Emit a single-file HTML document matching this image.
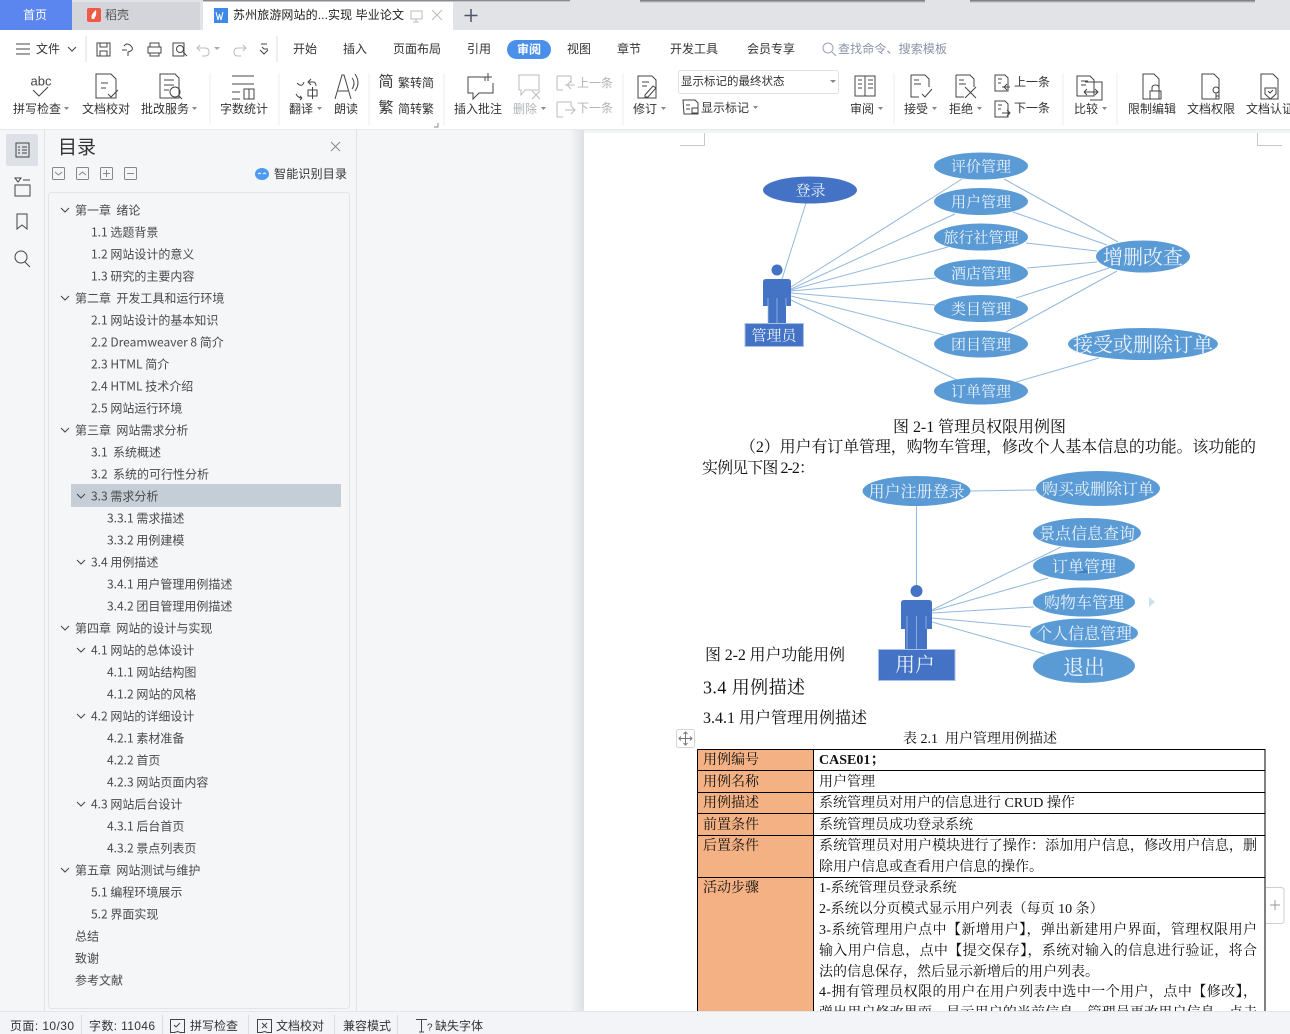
<!DOCTYPE html>
<html lang="zh-CN"><head><meta charset="utf-8"><title>苏州旅游网站的实现 毕业论文</title>
<style>
html,body{margin:0;padding:0;background:#fff;width:1290px;height:1034px;overflow:hidden}
svg{display:block}
text{dominant-baseline:central;font-family:"Liberation Sans","Noto Sans CJK SC",sans-serif;font-size:12px;fill:#333}
.g{fill:#b0b3b8}
.t text{font-family:"Noto Sans CJK SC",sans-serif;font-size:12px;fill:#4a4a4a}
.d text{font-family:"Liberation Serif","Noto Serif CJK SC",serif;font-size:14px;fill:#111;transform:translateY(1.5px)}
.w text{font-family:"Liberation Serif","Noto Serif CJK SC",serif;fill:#eaf2fb;text-anchor:middle;font-size:15px;transform:translateY(1.5px)}
.ic *{fill:none;stroke:#444;stroke-width:1}
.ig *{fill:none;stroke:#bbb;stroke-width:1}
.ln line{stroke:#93b9de;stroke-width:1}
</style></head><body>
<svg width="1290" height="1034" viewBox="0 0 1290 1034" xmlns="http://www.w3.org/2000/svg">
<defs>
<linearGradient id="sh" x1="0" x2="1" y1="0" y2="0"><stop offset="0" stop-color="#f5f6f8"/><stop offset="1" stop-color="#dfe0e3"/></linearGradient>
<linearGradient id="ts" x1="0" x2="0" y1="0" y2="1"><stop offset="0" stop-color="#6c6e72"/><stop offset="1" stop-color="#e1e3e7"/></linearGradient>
</defs>
<rect width="1290" height="1034" fill="#fff"/>
<!-- tab strip -->
<rect width="1290" height="30" fill="#e1e3e7"/>
<rect x="640" y="0" width="285" height="3" fill="url(#ts)"/>
<rect x="970" y="0" width="285" height="3" fill="url(#ts)"/>
<rect x="0" y="0" width="72" height="30" fill="#5b86f0"/>
<rect x="72" y="2" width="128" height="28" fill="#d3d5da"/>
<rect x="203" y="0" width="250" height="30" fill="#fff"/>
<rect x="203" y="0" width="367" height="2" fill="url(#ts)"/>
<text x="35" y="15" text-anchor="middle" style="fill:#fff">首页</text>
<path d="M87 10q0-2 2-2h10q2 0 2 2v10q0 2-2 2H89q-2 0-2-2z" fill="#ee5a45"/><path d="M92 19q-2-4 4-9 1 5-2 9z" fill="#fff"/>
<text x="105" y="15" style="fill:#555">稻壳</text>
<rect x="214" y="8" width="14" height="15" fill="#3f8ae8"/><path d="M216 12l2 8 1.500-6 1.500 6 2-8" fill="none" stroke="#fff"/>
<text x="233" y="15" textLength="171" style="fill:#222">苏州旅游网站的...实现 毕业论文</text>
<g class="ig"><rect x="411" y="11" width="11" height="8"/><path d="M416 19v3m-3 0h6"/><path d="M432 10l10 10m0-10l-10 10"/></g>
<path d="M471 9v13m-6.500-6.500h13" stroke="#4a5568" stroke-width="1.500"/>
<!-- menu row -->
<g class="ic">
<path d="M16 44h14M16 49h14M16 54h14"/>
<path d="M68 47l4 4 4-4"/>
<rect x="97" y="43" width="13" height="13"/><path d="M100 43v4h7v-4M100 56v-5h7v5"/>
<path d="M124 46q3-4 7 0t-3 6v4m-6-6h5"/>
<rect x="148" y="47" width="13" height="6"/><path d="M150 47v-4h9v4M150 53v3h9v-3"/>
<rect x="173" y="43" width="11" height="13"/><circle cx="180" cy="49" r="3.500"/><path d="M183 52l4 4"/>
<path d="M262 47l2 2 4-0M261 44h6M260 50l4 4 4-4"/>
</g>
<g class="ig"><path d="M200 45l-3 3 3 3M197 48h8q4 0 4 4t-4 4h-3"/><path d="M243 45l3 3-3 3M246 48h-8q-4 0-4 4t4 4h3"/></g>
<path d="M214 47l3 3 3-3z" fill="#aaa"/>
<text x="36" y="49">文件</text>
<line x1="86" y1="36" x2="86" y2="62" stroke="#ddd"/><line x1="277" y1="36" x2="277" y2="62" stroke="#ddd"/>
<text x="293" y="49">开始</text><text x="343" y="49">插入</text><text x="393" y="49">页面布局</text><text x="467" y="49">引用</text>
<rect x="507" y="40" width="44" height="19" rx="9.500" fill="#4a90ea"/>
<text x="517" y="49.500" style="fill:#fff;font-weight:bold">审阅</text>
<text x="567" y="49">视图</text><text x="617" y="49">章节</text><text x="670" y="49">开发工具</text><text x="747" y="49">会员专享</text>
<circle cx="828" cy="48" r="5" fill="none" stroke="#9aa3b5"/><path d="M832 52l4 4" stroke="#9aa3b5"/>
<text x="838" y="49" textLength="109" style="fill:#8a93a6">查找命令、搜索模板</text>
<!-- ribbon labels -->
<g>
<text x="13" y="109">拼写检查</text><text x="82" y="109">文档校对</text><text x="141" y="109">批改服务</text>
<text x="220" y="109">字数统计</text><text x="289" y="109">翻译</text><text x="334" y="109">朗读</text>
<text x="398" y="83">繁转简</text><text x="398" y="109">简转繁</text>
<text x="454" y="109">插入批注</text><text x="513" y="109" class="g">删除</text>
<text x="577" y="83" class="g">上一条</text><text x="577" y="108" class="g">下一条</text>
<text x="633" y="109">修订</text>
<text x="701" y="108">显示标记</text>
<text x="850" y="109">审阅</text><text x="904" y="109">接受</text><text x="949" y="109">拒绝</text>
<text x="1014" y="82">上一条</text><text x="1014" y="108">下一条</text>
<text x="1074" y="109">比较</text><text x="1128" y="109">限制编辑</text><text x="1187" y="109">文档权限</text><text x="1246" y="109">文档认证</text>
</g>
<rect x="678.500" y="70.500" width="160" height="23" rx="2" fill="#fff" stroke="#e2e2e2"/>
<text x="681" y="82" style="font-size:11.500px">显示标记的最终状态</text>
<path d="M830 80l6 0-3 3z" fill="#888"/>
<path d="M64 107h5l-2.500 3zM192 107h5l-2.500 3zM317 107h5l-2.500 3zM541 107h5l-2.500 3zM661 107h5l-2.500 3zM753 106h5l-2.500 3zM878 107h5l-2.500 3zM932 107h5l-2.500 3zM977 107h5l-2.500 3zM1102 107h5l-2.500 3z" fill="#888"/>
<path d="M434 127h4v-4" fill="none" stroke="#888"/>
<g stroke="#eeeeee"><line x1="210" y1="73" x2="210" y2="125"/><line x1="279" y1="73" x2="279" y2="125"/><line x1="369" y1="73" x2="369" y2="125"/><line x1="444" y1="73" x2="444" y2="125"/><line x1="623" y1="73" x2="623" y2="125"/><line x1="894" y1="73" x2="894" y2="125"/><line x1="1063" y1="73" x2="1063" y2="125"/><line x1="1117" y1="73" x2="1117" y2="125"/></g>
<!-- ribbon icons -->
<text x="41" y="81" text-anchor="middle" style="font-size:13px;fill:#444">abc</text>
<text x="386" y="82" text-anchor="middle" style="font-size:15px;fill:#333">简</text>
<text x="386" y="108" text-anchor="middle" style="font-size:15px;fill:#333">繁</text>
<g class="ic">
<path d="M33 90l6 6 9-9"/>
<path d="M96 74h15l5 5v19h-20zM101 83h7M101 88h5M108 94l3 3 7-7"/>
<path d="M160 74h15l4 4v20h-19zM164 80h10M164 85h10M164 90h5"/><circle cx="175" cy="92" r="5"/><path d="M179 96l3 3"/>
<path d="M232 76h22M232 84h22M232 92h8M232 99h8M244 89h10v10h-10zM249 89v10"/>
<path d="M297 83q5 5 7-1m7-3l-3 3 3 3m-3-3h5q3 0 3 4M296 94q2 4 6 4m0 0l-2-2m2 2l-2 2M308 90h9v6h-9zM312.500 87v12"/>
<path d="M335 99l7-24h2l7 24M338 91h10M352 78q4 5 0 11M355 74q6 9 0 17"/>
<path d="M468 77h17v4M493 83v10h-14l-6 6v-6h-5V77h3M488 73v8m-4-4h8"/>
<path d="M642 76h10l4 4v18h-18V76zM642 82h7M642 86h5M645 95l8-9 3 2-8 9h-3z"/>
<path d="M683 101h12l3 3v11h-14zM686 106h4M686 110h4" transform="translate(0,-1)"/><path d="M692 108h6v5h-6z"/>
<rect x="855" y="76" width="20" height="20"/><path d="M865 76v20M858 80h4M858 84h4M858 88h4M868 80h5M868 84h5M868 88h5"/>
<path d="M911 75h14l4 4v8M911 75v22h8M914 80h5M914 84h7M922 94l3 3 7-8"/>
<path d="M956 75h14l4 4v8M956 75v22h8M959 80h5M959 84h7M965 87l11 11m0-11l-11 11"/>
<path d="M995 75h10l3 3v13h-13zM998 79h4M998 83h3M1002 87h8m-3-3l-3 3 3 3"/>
<path d="M995 101h10l3 3v13h-13zM998 105h4M998 109h3M1002 113h8m-3-3l3 3-3 3"/>
<path d="M1077 76h13l4 4v16h-17zM1085 82h17v18h-12M1081 81h7M1081 85h5M1084 92h14m-3-3l3 3-3 3m-11-3l3-3m-3 3l3 3"/>
<path d="M1143 74h11l5 5v20h-16zM1150 91h11v8h-11z"/><path d="M1152 91v-3q0-3 3.500-3t3.500 3v3"/>
<path d="M1202 74h12l5 5v20h-17z"/><circle cx="1216" cy="90" r="3"/><path d="M1216 93v6m0-3h3"/>
<path d="M1261 74h12l5 5v20h-17zM1265 88h11v6l-5.500 5-5.500-5zM1268 91l2 2 3-3"/>
</g>
<g class="ig">
<path d="M519 75h20v15h-14l-4 5v-5h-2zM532 91l8 8m0-8l-8 8"/>
<path d="M557 76h14v7m-14 7v-14m0 14h6M565 85h10m-4-4l-4 4 4 4"/>
<path d="M557 102h14v4m-14 11v-15m0 15h6M565 110h10m-4-4l4 4-4 4"/>
</g>
<rect x="0" y="129" width="1290" height="1" fill="#e8e9ec"/>
<!-- side panes -->
<rect x="0" y="130" width="584" height="881" fill="#f5f6f8"/>
<rect x="570" y="130" width="14" height="881" fill="url(#sh)"/>
<line x1="44.500" y1="130" x2="44.500" y2="1011" stroke="#e2e4e8"/>
<line x1="356.500" y1="130" x2="356.500" y2="1011" stroke="#e2e4e8"/>
<rect x="48.500" y="192.500" width="301" height="816" rx="3" fill="#f5f6f8" stroke="#e3e5e9"/>
<rect x="6" y="134" width="32" height="32" rx="2" fill="#dde1e7"/>
<g class="ic"><rect x="16" y="143" width="13" height="14"/><path d="M18 147h2M22 147h5M18 150h2M22 150h5M18 153h2M22 153h5"/>
<path d="M15 178h6l-3 4zM23 180h7M15 185h15v11H15z"/><path d="M17 214h10v15l-5-4-5 4z"/><circle cx="21" cy="257" r="6"/><path d="M25 262l5 5"/></g>
<text x="58" y="148" style="font-size:19px;fill:#333">目录</text>
<path d="M331 142l9 9m0-9l-9 9" stroke="#888" fill="none"/>
<g fill="none" stroke="#888"><rect x="52.500" y="167.500" width="12" height="12" rx="1"/><rect x="76.500" y="167.500" width="12" height="12" rx="1"/><rect x="100.500" y="167.500" width="12" height="12" rx="1"/><rect x="124.500" y="167.500" width="12" height="12" rx="1"/><path d="M55 172l3.500 3 3.500-3M79 175l3.500-3 3.500 3M103 173.500h7M106.500 170v7M127 173.500h7"/></g>
<ellipse cx="262" cy="174" rx="7" ry="6" fill="#4d9af0"/><path d="M258 174l1.500-1 1.500 1M263 174l1.500-1 1.500 1" stroke="#fff" fill="none"/>
<text x="274" y="174" textLength="73" style="fill:#333">智能识别目录</text>
<rect x="71" y="484" width="270" height="23" fill="#c5ced6"/>
<g fill="none" stroke="#444"><path d="M61 208l4 4 4-4M61 296l4 4 4-4M61 428l4 4 4-4M61 626l4 4 4-4M61 868l4 4 4-4M77 494l4 4 4-4M77 560l4 4 4-4M77 648l4 4 4-4M77 714l4 4 4-4M77 802l4 4 4-4"/></g>
<g class="t">
<text x="75" y="210">第一章&#160;&#160;绪论</text><text x="91" y="232">1.1 选题背景</text><text x="91" y="254">1.2 网站设计的意义</text><text x="91" y="276">1.3 研究的主要内容</text>
<text x="75" y="298">第二章&#160;&#160;开发工具和运行环境</text><text x="91" y="320">2.1 网站设计的基本知识</text><text x="91" y="342">2.2 Dreamweaver 8 简介</text><text x="91" y="364">2.3 HTML 简介</text><text x="91" y="386">2.4 HTML 技术介绍</text><text x="91" y="408">2.5 网站运行环境</text>
<text x="75" y="430">第三章&#160;&#160;网站需求分析</text><text x="91" y="452">3.1&#160;&#160;系统概述</text><text x="91" y="474">3.2&#160;&#160;系统的可行性分析</text><text x="91" y="496">3.3 需求分析</text>
<text x="107" y="518">3.3.1 需求描述</text><text x="107" y="540">3.3.2 用例建模</text><text x="91" y="562">3.4 用例描述</text><text x="107" y="584">3.4.1 用户管理用例描述</text><text x="107" y="606">3.4.2 团目管理用例描述</text>
<text x="75" y="628">第四章&#160;&#160;网站的设计与实现</text><text x="91" y="650">4.1 网站的总体设计</text><text x="107" y="672">4.1.1 网站结构图</text><text x="107" y="694">4.1.2 网站的风格</text><text x="91" y="716">4.2 网站的详细设计</text><text x="107" y="738">4.2.1 素材准备</text><text x="107" y="760">4.2.2 首页</text><text x="107" y="782">4.2.3 网站页面内容</text><text x="91" y="804">4.3 网站后台设计</text><text x="107" y="826">4.3.1 后台首页</text><text x="107" y="848">4.3.2 景点列表页</text>
<text x="75" y="870">第五章&#160;&#160;网站测试与维护</text><text x="91" y="892">5.1 编程环境展示</text><text x="91" y="914">5.2 界面实现</text><text x="75" y="936">总结</text><text x="75" y="958">致谢</text><text x="75" y="980">参考文献</text>
</g>
<!-- page marks -->
<rect x="584" y="130" width="706" height="3" fill="#f3f4f6"/>
<path d="M680 145.500h24.500V133M1282 145.500h-24.500V133" fill="none" stroke="#c8c8c8"/>
<!-- diagram 1 -->
<g class="ln">
<line x1="806" y1="203" x2="782" y2="279"/>
<line x1="791" y1="287" x2="962" y2="179"/><line x1="791" y1="289" x2="955" y2="214"/><line x1="791" y1="290" x2="948" y2="247"/><line x1="791" y1="291" x2="936" y2="278"/><line x1="791" y1="293" x2="935" y2="305"/><line x1="791" y1="296" x2="944" y2="335"/><line x1="791" y1="300" x2="957" y2="380"/>
<line x1="1004" y1="179" x2="1118" y2="242"/><line x1="1013" y1="212" x2="1107" y2="245"/><line x1="1026" y1="243" x2="1097" y2="251"/><line x1="1027" y1="268" x2="1097" y2="262"/><line x1="1016" y1="298" x2="1109" y2="268"/><line x1="1006" y1="332" x2="1117" y2="271"/><line x1="1016" y1="382" x2="1099" y2="358"/>
</g>
<ellipse cx="810" cy="190" rx="47" ry="13.500" fill="#4472c4"/>
<g fill="#5b9bd5"><ellipse cx="981" cy="166" rx="47" ry="13.500"/><ellipse cx="981" cy="201.500" rx="47" ry="13.500"/><ellipse cx="981" cy="237" rx="47" ry="13.500"/><ellipse cx="981" cy="273" rx="47" ry="13.500"/><ellipse cx="981" cy="308.500" rx="47" ry="13.500"/><ellipse cx="981" cy="344" rx="47" ry="13.500"/><ellipse cx="981" cy="391" rx="47" ry="13.500"/><ellipse cx="1143" cy="256.500" rx="47" ry="16"/><ellipse cx="1143" cy="344" rx="75" ry="16"/></g>
<circle cx="777" cy="270" r="5.500" fill="#4472c4"/>
<path d="M763 282q0-3 3-3h22q3 0 3 3v24h-5v17h-18v-17h-5z" fill="#4472c4"/>
<path d="M768 298v25M777 298v25M786 298v8" stroke="#a9c1e6" stroke-width="0.700" fill="none"/>
<rect x="745" y="323.500" width="58.500" height="23" fill="#4472c4" stroke="#a9c1e6"/>
<g class="w">
<text x="810.500" y="190">登录</text><text x="981" y="166">评价管理</text><text x="981" y="201.500">用户管理</text><text x="981" y="237">旅行社管理</text><text x="981" y="273">酒店管理</text><text x="981" y="308.500">类目管理</text><text x="981" y="344">团目管理</text><text x="981" y="391">订单管理</text><text x="774" y="335">管理员</text>
<text x="1143" y="256.500" style="font-size:20px">增删改查</text><text x="1143" y="344" style="font-size:20px">接受或删除订单</text>
</g>
<g class="d">
<text x="893" y="426" textLength="173" style="font-size:16px">图 2-1 管理员权限用例图</text>
<text x="740" y="446" textLength="516" style="font-size:16px">（2）用户有订单管理，购物车管理，修改个人基本信息的功能。该功能的</text>
<text x="702" y="467" textLength="113" style="font-size:16px">实例见下图 2-2：</text>
</g>
<!-- diagram 2 -->
<g class="ln"><line x1="916.500" y1="506" x2="916.500" y2="586" stroke="#6fa0d6"/><line x1="970" y1="491" x2="1036" y2="490"/><line x1="932" y1="610" x2="1061" y2="547"/><line x1="932" y1="611" x2="1048" y2="578"/><line x1="932" y1="613" x2="1034" y2="607"/><line x1="932" y1="618" x2="1031" y2="627"/><line x1="932" y1="622" x2="1045" y2="654"/></g>
<g fill="#5b9bd5"><ellipse cx="916.500" cy="491" rx="54" ry="15"/><ellipse cx="1098" cy="488.500" rx="62" ry="17.500"/><ellipse cx="1087" cy="533" rx="54" ry="15"/><ellipse cx="1084" cy="566" rx="51" ry="14.500"/><ellipse cx="1084" cy="602" rx="51" ry="14.500"/><ellipse cx="1084" cy="633" rx="54" ry="14.500"/><ellipse cx="1084" cy="666" rx="51" ry="17"/></g>
<path d="M1078 573l6-5 6 5z" fill="#3f80c0"/>
<path d="M1149 597l6 5-6 5z" fill="#c8e3ee"/>
<circle cx="916.500" cy="591" r="6" fill="#4472c4"/>
<path d="M901 603q0-3 3-3h25q3 0 3 3v26h-5v21h-22v-21h-4z" fill="#4472c4"/>
<path d="M907 616v34M916.500 616v34M926 616v13" stroke="#a9c1e6" stroke-width="0.700" fill="none"/>
<rect x="878.500" y="649.500" width="76.500" height="31" fill="#4472c4" stroke="#a9c1e6"/>
<g class="w" style="font-size:16px">
<text x="916.500" y="491" style="font-size:16px">用户注册登录</text><text x="1098" y="488.500" style="font-size:16px">购买或删除订单</text><text x="1087" y="533" style="font-size:16px">景点信息查询</text><text x="1084" y="566" style="font-size:16px">订单管理</text><text x="1084" y="602" style="font-size:16px">购物车管理</text><text x="1084" y="633" style="font-size:16px">个人信息管理</text><text x="1084" y="666" style="font-size:21px">退出</text><text x="915" y="664" style="font-size:20px">用户</text>
</g>
<g class="d">
<text x="705" y="654" textLength="140" style="font-size:16px">图 2-2 用户功能用例</text>
<text x="703" y="686" textLength="102" style="font-size:18px">3.4 用例描述</text>
<text x="703" y="717" textLength="164" style="font-size:16px">3.4.1 用户管理用例描述</text>
<text x="903" y="738" textLength="154">表 2.1&#160;&#160;用户管理用例描述</text>
</g>
<!-- table -->
<rect x="697" y="749" width="116" height="265" fill="#f4b183"/>
<g stroke="#000" stroke-width="1" fill="none"><path d="M697.500 749.500h567.500V1014M697.500 749.500V1014M813.500 749.500V1014M697.500 770.500H1265M697.500 792.500H1265M697.500 813.500H1265M697.500 835.500H1265M697.500 877.500H1265"/></g>
<g class="d">
<text x="703" y="759">用例编号</text><text x="703" y="781">用例名称</text><text x="703" y="802">用例描述</text><text x="703" y="824">前置条件</text><text x="703" y="845">后置条件</text><text x="703" y="887">活动步骤</text>
<text x="819" y="759" style="font-weight:bold">CASE01；</text>
<text x="819" y="781">用户管理</text>
<text x="819" y="802">系统管理员对用户的信息进行 CRUD 操作</text>
<text x="819" y="824">系统管理员成功登录系统</text>
<text x="819" y="845" textLength="438">系统管理员对用户模块进行了操作：添加用户信息，修改用户信息，删</text>
<text x="819" y="866">除用户信息或查看用户信息的操作。</text>
<text x="819" y="887">1-系统管理员登录系统</text>
<text x="819" y="908">2-系统以分页模式显示用户列表（每页 10 条）</text>
<text x="819" y="929" textLength="438">3-系统管理用户点中【新增用户】，弹出新建用户界面，管理权限用户</text>
<text x="819" y="950" textLength="438">输入用户信息，点中【提交保存】，系统对输入的信息进行验证，将合</text>
<text x="819" y="971">法的信息保存，然后显示新增后的用户列表。</text>
<text x="819" y="991" textLength="438">4-拥有管理员权限的用户在用户列表中选中一个用户，点中【修改】，</text>
<text x="819" y="1012" textLength="438">弹出用户修改界面，显示用户的当前信息，管理员更改用户信息，点击</text>
</g>
<!-- table handles -->
<rect x="676.500" y="729.500" width="18" height="18" rx="2" fill="#fff" stroke="#d5d5d5"/>
<path d="M685.500 732v13M679 738.500h13M683.500 734l2-2 2 2M683.500 743l2 2 2-2M681 736.500l-2 2 2 2M690 736.500l2 2-2 2" fill="none" stroke="#777"/>
<path d="M1266 887.500h15q3 0 3 3v30q0 3-3 3h-15" fill="#fff" stroke="#cfcfcf"/>
<path d="M1275 900v10m-5-5h10" stroke="#999"/>
<!-- status bar -->
<rect x="0" y="1011" width="1290" height="23" fill="#f3f4f7"/>
<line x1="0" y1="1011.500" x2="1290" y2="1011.500" stroke="#e4e5e9"/>
<g stroke="#dcdde1"><line x1="81.500" y1="1015" x2="81.500" y2="1034"/><line x1="162.500" y1="1015" x2="162.500" y2="1034"/><line x1="248.500" y1="1015" x2="248.500" y2="1034"/><line x1="334.500" y1="1015" x2="334.500" y2="1034"/><line x1="397.500" y1="1015" x2="397.500" y2="1034"/></g>
<text x="10" y="1026" textLength="64">页面: 10/30</text><text x="89" y="1026" textLength="66">字数: 11046</text>
<g class="ic"><path d="M170.500 1019.500h14v13h-4l-3-1-3 1h-4zM174 1025l2 2 4-4"/><path d="M257.500 1019.500h14v13h-4l-3-1-3 1h-4zM262 1023l5 5m0-5l-5 5"/><path d="M416 1019.500h11M421.500 1019.500V1032M419 1032h5"/></g>
<text x="427" y="1028" style="font-size:10px">?</text>
<text x="190" y="1026">拼写检查</text><text x="276" y="1026">文档校对</text><text x="343" y="1026">兼容模式</text><text x="435" y="1026">缺失字体</text>
</svg>
</body></html>
